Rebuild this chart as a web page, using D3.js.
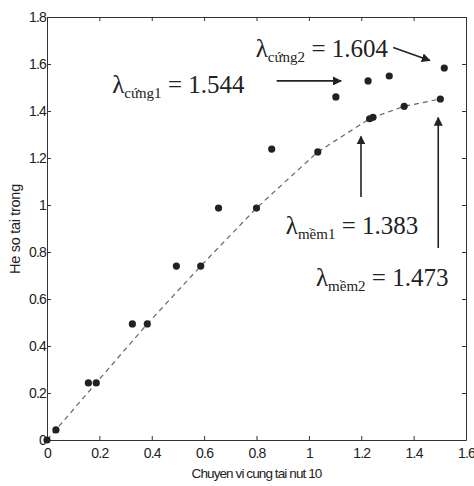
<!DOCTYPE html>
<html>
<head>
<meta charset="utf-8">
<script src="https://cdn.jsdelivr.net/npm/d3@7"></script>
<style>
  body { margin: 0; background: #fff; }
  svg { display: block; }
  .tick text { font-family: "Liberation Sans", Arial, sans-serif; font-size: 14px; fill: #222; letter-spacing: -0.8px; }
  .lam { font-family: "Liberation Serif", "Times New Roman", serif; fill: #222; }
</style>
</head>
<body>
<div id="chart"></div>
<script>
// stiff model (cung) points
const stiffX = [0.158, 0.326, 0.494, 0.655, 0.858, 1.103, 1.226, 1.307, 1.517];
const stiffY = [0.243, 0.494, 0.740, 0.987, 1.238, 1.460, 1.528, 1.549, 1.583];

// soft model (mem) points, joined by the dashed line
const softX = [0, 0.034, 0.188, 0.383, 0.587, 0.800, 1.034, 1.232, 1.245, 1.364, 1.502];
const softY = [0, 0.043, 0.243, 0.494, 0.740, 0.987, 1.226, 1.367, 1.373, 1.420, 1.451];

const xTicks = [0, 0.2, 0.4, 0.6, 0.8, 1, 1.2, 1.4, 1.6];
const yTicks = [0, 0.2, 0.4, 0.6, 0.8, 1, 1.2, 1.4, 1.6, 1.8];

// annotations: [sub, value, x, y] (text start, baseline, in data units)
const labels = [
  ["cứng1", "1.544", 0.249, 1.477],
  ["cứng2", "1.604", 0.797, 1.630],
  ["mềm1", "1.383", 0.912, 0.877],
  ["mềm2", "1.473", 1.027, 0.655]
];
// arrows: [x1, y1, x2, y2] in data units
const arrows = [
  [0.877, 1.528, 1.123, 1.528],
  [1.322, 1.670, 1.462, 1.615],
  [1.199, 1.034, 1.199, 1.292],
  [1.494, 0.817, 1.494, 1.372]
];

const width = 474, height = 486;
const margin = {top: 17, right: 8, bottom: 46, left: 47};
const w = width - margin.left - margin.right;
const h = height - margin.top - margin.bottom;

const svg = d3.select("#chart").append("svg")
  .attr("width", width)
  .attr("height", height);

svg.append("defs").append("marker")
  .attr("id", "head")
  .attr("viewBox", "0 0 10 10")
  .attr("refX", 9).attr("refY", 5)
  .attr("markerWidth", 9).attr("markerHeight", 9)
  .attr("markerUnits", "userSpaceOnUse")
  .attr("orient", "auto")
  .append("path")
  .attr("d", "M0,0 L10,5 L0,10 z")
  .attr("fill", "#222");

const g = svg.append("g")
  .attr("transform", `translate(${margin.left},${margin.top})`);

const x = d3.scaleLinear().domain([0, 1.6]).range([0, w]);
const y = d3.scaleLinear().domain([0, 1.8]).range([h, 0]);

// axes with inward ticks (all four sides)
const fmt = d => d === 0 ? "0" : (d % 1 === 0 ? String(d) : d.toFixed(1));
g.append("g").attr("transform", `translate(0,${h})`)
  .call(d3.axisBottom(x).tickValues(xTicks).tickFormat(fmt).tickSizeInner(-4).tickSizeOuter(0).tickPadding(8));
g.append("g")
  .call(d3.axisLeft(y).tickValues(yTicks).tickFormat(fmt).tickSizeInner(-4).tickSizeOuter(0).tickPadding(1));
g.append("g")
  .call(d3.axisTop(x).tickValues(xTicks).tickFormat("").tickSizeInner(-4).tickSizeOuter(0));
g.append("g").attr("transform", `translate(${w},0)`)
  .call(d3.axisRight(y).tickValues(yTicks).tickFormat("").tickSizeInner(-4).tickSizeOuter(0));
g.selectAll(".domain").attr("stroke", "#333");
g.selectAll(".tick line").attr("stroke", "#333");

// dashed fit line through soft points
const line = d3.line().x(d => x(d[0])).y(d => y(d[1]));
g.append("path")
  .datum(softX.map((v, i) => [v, softY[i]]))
  .attr("d", line)
  .attr("fill", "none")
  .attr("stroke", "#666")
  .attr("stroke-width", 1.2)
  .attr("stroke-dasharray", "5,4");

// points
const pts = stiffX.map((v, i) => [v, stiffY[i]]).concat(softX.map((v, i) => [v, softY[i]]));
g.selectAll("circle.pt")
  .data(pts)
  .enter().append("circle")
  .attr("class", "pt")
  .attr("cx", d => x(d[0]))
  .attr("cy", d => y(d[1]))
  .attr("r", 3.6)
  .attr("fill", "#222");

// arrows
g.selectAll("line.arrow")
  .data(arrows)
  .enter().append("line")
  .attr("class", "arrow")
  .attr("x1", d => x(d[0])).attr("y1", d => y(d[1]))
  .attr("x2", d => x(d[2])).attr("y2", d => y(d[3]))
  .attr("stroke", "#222")
  .attr("stroke-width", 1.6)
  .attr("marker-end", "url(#head)");

// lambda labels
const lt = g.selectAll("text.lam")
  .data(labels)
  .enter().append("text")
  .attr("class", "lam")
  .attr("x", d => x(d[2]))
  .attr("y", d => y(d[3]))
  .attr("font-size", 25);
lt.append("tspan").text("λ");
lt.append("tspan").attr("font-size", 15).attr("dy", 5).text(d => d[0]);
lt.append("tspan").attr("dy", -5).text(d => " = " + d[1]);

// axis titles
svg.append("text")
  .attr("x", margin.left + w / 2)
  .attr("y", 478)
  .attr("text-anchor", "middle")
  .style("font-family", "Liberation Sans, Arial, sans-serif")
  .style("font-size", "13.5px")
  .style("letter-spacing", "-0.9px")
  .attr("fill", "#222")
  .text("Chuyen vi cung tai nut 10");

svg.append("text")
  .attr("transform", `translate(20,${229}) rotate(-90)`)
  .attr("text-anchor", "middle")
  .style("font-family", "Liberation Sans, Arial, sans-serif")
  .style("font-size", "14.5px")
  .style("letter-spacing", "-0.3px")
  .attr("fill", "#222")
  .text("He so tai trong");
</script>
</body>
</html>
